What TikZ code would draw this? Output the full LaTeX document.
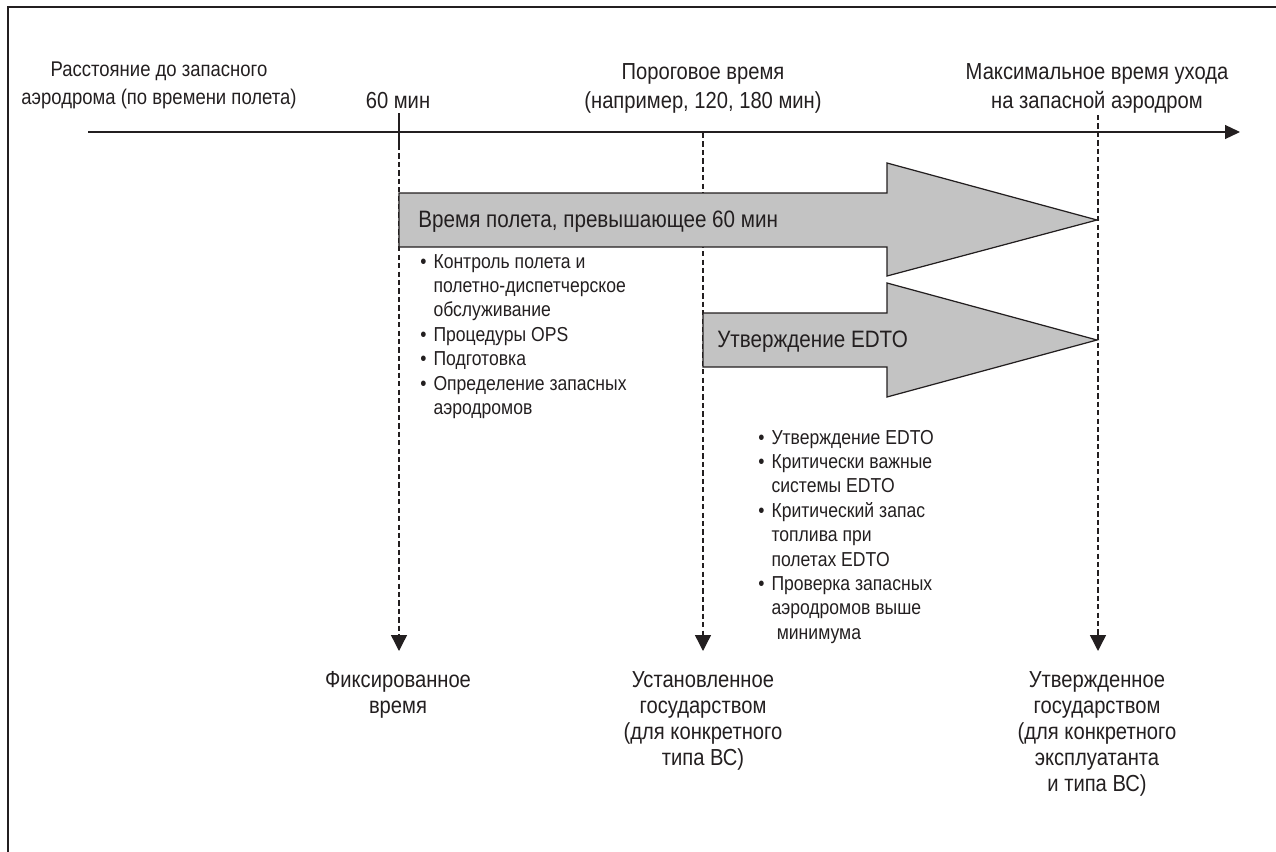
\documentclass[tikz,border=0pt]{standalone}
\usepackage{fontspec}
\setmainfont{Liberation Sans}[FakeStretch=0.87]
\usetikzlibrary{arrows.meta}
\definecolor{inkgray}{HTML}{231F20}
\definecolor{arrowgray}{HTML}{C3C3C3}
\tikzset{
    lbl/.style={inner sep=0pt, anchor=base, text=inkgray, font=\fontsize{13.2}{14.8}\selectfont},
    head/.style={lbl, font=\fontsize{13.2}{17}\selectfont},
    bullets/.style={inner sep=0pt, anchor=base west, text=inkgray, font=\fontsize{11.5}{13.9}\selectfont},
    guide/.style={draw=inkgray, line width=0.8pt, dash pattern=on 3pt off 1.8pt,
        -{Triangle[length=0.32cm, width=0.32cm]}},
    blockarrow/.style={draw=inkgray, line width=0.7pt, fill=arrowgray, line join=miter},
}

\begin{document}
\begin{tikzpicture}[x=0.02cm, y=-0.02cm]
    \useasboundingbox (0,0) rectangle (1276,852);
    % frame, cut at the right and at the bottom
    \draw[inkgray, line width=0.8pt] (8,852) -- (8,7) -- (1276,7);

    % time axis
    \coordinate (axstart) at (88,132);
    \coordinate (axend) at (1240,132);
    \draw[inkgray, line width=0.7pt, -{Triangle[length=0.3cm, width=0.28cm]}] (axstart) -- (axend);

    % axis labels
    \node[head, font=\fontsize{12.1}{16}\selectfont] (dist) at (159,76)
        {\begin{tabular}[t]{@{}c@{}}Расстояние до запасного\\аэродрома (по времени полета)\end{tabular}};
    \node[head] (m60) at (398,108) {60 мин};
    \node[head] (thr) at (703,79)
        {\begin{tabular}[t]{@{}c@{}}Пороговое время\\(например, 120, 180 мин)\end{tabular}};
    \node[head] (maxt) at (1097,79)
        {\begin{tabular}[t]{@{}c@{}}Максимальное время ухода\\на запасной аэродром\end{tabular}};

    % guide lines
    \coordinate (g60tick) at (399,113);
    \coordinate (g60top) at (399,145);
    \coordinate (g60bot) at (399,651);
    \coordinate (thrtop) at (703,133);
    \coordinate (thrbot) at (703,651);
    \coordinate (maxtop) at (1098,115);
    \coordinate (maxbot) at (1098,651);
    \draw[inkgray, line width=0.7pt] (g60tick) -- (g60top);
    \draw[guide] (g60top) -- (g60bot);
    \draw[guide] (thrtop) -- (thrbot);
    \draw[guide] (maxtop) -- (maxbot);

    % block arrows
    \draw[blockarrow] (399,193) -- (887,193) -- (887,163) -- (1097,220)
        -- (887,276) -- (887,247) -- (399,247) -- cycle;
    \node[lbl, anchor=base west, font=\fontsize{13.5}{14}\selectfont] (longflt) at (418,227)
        {Время полета, превышающее 60 мин};
    \draw[blockarrow] (703,313) -- (887,313) -- (887,283) -- (1097,340)
        -- (887,397) -- (887,367) -- (703,367) -- cycle;
    \node[lbl, anchor=base west, font=\fontsize{13.5}{14}\selectfont] (approv) at (717,347)
        {Утверждение EDTO};

    % requirement lists
    \node[bullets] (ops) at (420,268)
        {\begin{tabular}[t]{@{}l@{\hspace{4pt}}l@{}}
        • & Контроль полета и\\
          & полетно-диспетчерское\\
          & обслуживание\\
        • & Процедуры OPS\\
        • & Подготовка\\
        • & Определение запасных\\
          & аэродромов
        \end{tabular}};
    \node[bullets] (edto) at (758,444)
        {\begin{tabular}[t]{@{}l@{\hspace{4pt}}l@{}}
        • & Утверждение EDTO\\
        • & Критически важные\\
          & системы EDTO\\
        • & Критический запас\\
          & топлива при\\
          & полетах EDTO\\
        • & Проверка запасных\\
          & аэродромов выше\\
          & \hspace{3pt}минимума
        \end{tabular}};

    % who sets the time
    \node[lbl] (fixed) at (398,687)
        {\begin{tabular}[t]{@{}c@{}}Фиксированное\\время\end{tabular}};
    \node[lbl] (state) at (703,687)
        {\begin{tabular}[t]{@{}c@{}}Установленное\\государством\\(для конкретного\\типа ВС)\end{tabular}};
    \node[lbl] (oper) at (1097,687)
        {\begin{tabular}[t]{@{}c@{}}Утвержденное\\государством\\(для конкретного\\эксплуатанта\\и типа ВС)\end{tabular}};
\end{tikzpicture}
\end{document}
